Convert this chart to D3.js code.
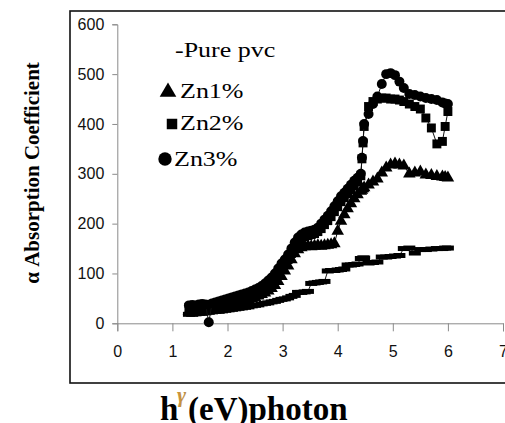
<!DOCTYPE html>
<html>
<head>
<meta charset="utf-8">
<script src="https://cdn.jsdelivr.net/npm/d3@7"></script>
<style>
body { margin: 0; background: #fff; }
svg { display: block; }
</style>
</head>
<body>
<svg id="chart" width="505" height="423"></svg>
<script>
// photon energy (eV), shared by all four samples
const energy = [1.30, 1.36, 1.42, 1.48, 1.54, 1.60, 1.66, 1.72, 1.78, 1.84,
	1.90, 1.96, 2.02, 2.08, 2.14, 2.20, 2.26, 2.32, 2.38, 2.44,
	2.50, 2.56, 2.62, 2.68, 2.74, 2.80, 2.86, 2.92, 2.98, 3.04,
	3.10, 3.16, 3.22, 3.28, 3.34, 3.40, 3.46, 3.52, 3.58, 3.64,
	3.70, 3.76, 3.82, 3.88, 3.94, 4.00, 4.06, 4.12, 4.18, 4.24,
	4.30, 4.36, 4.42, 4.44, 4.46, 4.48, 4.56, 4.64, 4.72, 4.80,
	4.88, 4.96, 5.04, 5.12, 5.20, 5.30, 5.40, 5.50, 5.60, 5.70,
	5.80, 5.90, 5.95, 6.00]

const purePvc = [18, 18, 19, 20, 20, 21, 22, 23, 24, 24,
	25, 26, 27, 28, 29, 30, 31, 32, 33, 35,
	36, 37, 39, 40, 41, 43, 44, 46, 48, 49,
	51, 54, 56, 62, 62, 63, 64, 80, 81, 82,
	83, 84, 105, 106, 106, 107, 108, 109, 117, 117,
	118, 119, 130, 130, 131, 131, 121, 122, 123, 133,
	133, 134, 135, 136, 150, 151, 141, 148, 148, 149,
	150, 150, 151, 151]

const zn1 = [24, 25, 26, 27, 28, 29, 30, 31, 32, 33,
	34, 35, 36, 38, 40, 42, 44, 46, 48, 50,
	52, 55, 58, 61, 65, 70, 76, 84, 94, 105,
	115, 128, 140, 148, 152, 154, 155, 154, 155, 156,
	155, 156, 157, 158, 160, 185, 205, 218, 230, 240,
	250, 258, 265, 267, 270, 272, 278, 284, 290, 302,
	312, 318, 320, 318, 316, 300, 302, 304, 298, 297,
	295, 294, 293, 292]

const zn2 = [32, 33, 34, 34, 35, 36, 37, 38, 39, 41,
	42, 44, 46, 48, 50, 52, 54, 56, 58, 60,
	63, 66, 70, 74, 79, 85, 92, 100, 110, 118,
	128, 140, 152, 162, 170, 174, 176, 178, 180, 184,
	190, 198, 206, 214, 224, 234, 244, 252, 260, 268,
	276, 284, 296, 330, 362, 395, 435, 445, 450, 452,
	452, 450, 450, 448, 445, 440, 435, 430, 412, 392,
	360, 365, 395, 425]

const zn3 = [36, 37, 36, 38, 39, 38, 2, 40, 42, 44,
	46, 48, 50, 52, 54, 56, 58, 60, 62, 65,
	68, 71, 75, 80, 86, 92, 100, 110, 120, 128,
	138, 150, 162, 172, 178, 182, 184, 186, 188, 192,
	200, 208, 216, 225, 235, 245, 255, 262, 270, 278,
	286, 292, 300, 332, 366, 400, 420, 440, 455, 480,
	500, 502, 498, 485, 472, 460, 458, 455, 452, 450,
	448, 443, 441, 440]

const xTicks = [0, 1, 2, 3, 4, 5, 6, 7]
const yTicks = [0, 100, 200, 300, 400, 500, 600]
const seriesNames = ['Pure pvc', 'Zn1%', 'Zn2%', 'Zn3%']

const svg = d3.select('#chart')
const axisColor = '#8a8a8a'
const tickFont = '"Liberation Sans", Arial, sans-serif'
const serif = '"Liberation Serif", "Times New Roman", serif'

const x = d3.scaleLinear().domain([0, 7]).range([117.3, 503])
const y = d3.scaleLinear().domain([0, 600]).range([323.3, 24.3])

// outer frame (right edge runs off the picture)
svg.append('rect')
	.attr('x', 70).attr('y', 11)
	.attr('width', 460).attr('height', 372)
	.style('fill', 'none')
	.style('stroke', '#111')
	.style('stroke-width', 1.6)

const gY = svg.append('g')
	.attr('transform', `translate(${x(0)}, 0)`)
	.call(d3.axisLeft(y).tickValues(yTicks).tickFormat(d3.format('d')).tickSize(5).tickPadding(8))
const gX = svg.append('g')
	.attr('transform', `translate(0, ${y(0)})`)
	.call(d3.axisBottom(x).tickValues(xTicks).tickFormat(d3.format('d')).tickSize(8).tickPadding(14))

;[gY, gX].forEach((g) => {
	g.select('.domain').attr('stroke', axisColor)
	g.selectAll('.tick line').attr('stroke', axisColor)
	g.selectAll('.tick text')
		.style('font-family', tickFont)
		.style('font-size', '16px')
		.style('fill', '#111')
})

// series: thin line under markers
const table = [purePvc, zn1, zn2, zn3].map((vals, k) =>
	vals.map((v, i) => ({ e: energy[i], v, k })))

const line = d3.line().x((d) => x(d.e)).y((d) => y(d.v))
const dash = 'M-6,-2.5H6V2.5H-6Z'
const markerPath = [
	() => dash,
	d3.symbol(d3.symbolTriangle, 68),
	d3.symbol(d3.symbolSquare, 80),
	d3.symbol(d3.symbolCircle, 78),
]

const gSeries = svg.append('g')
table.forEach((data, k) => {
	const gs = gSeries.append('g').classed(`series-${k}`, true)
	gs.append('path')
		.attr('d', line(data))
		.style('fill', 'none')
		.style('stroke', '#111')
		.style('stroke-width', 1)
	gs.selectAll('path.m')
		.data(data).enter()
		.append('path')
		.classed('m', true)
		.attr('transform', (d) => `translate(${x(d.e)}, ${y(d.v)})`)
		.attr('d', markerPath[k])
		.style('fill', '#000')
})

// legend
const legend = svg.append('g')
	.style('font-family', serif)
	.style('font-size', '20px')
	.style('fill', '#000')

const legendRows = [
	{ name: '-' + seriesNames[0], tx: 175, ty: 57 },
	{ name: seriesNames[1], tx: 180, ty: 98, sym: d3.symbolTriangle, size: 120, sx: 168, sy: 92 },
	{ name: seriesNames[2], tx: 180, ty: 130, sym: d3.symbolSquare, size: 110, sx: 172, sy: 124 },
	{ name: seriesNames[3], tx: 174, ty: 166, sym: d3.symbolCircle, size: 140, sx: 165, sy: 159 },
]

legendRows.forEach((r) => {
	legend.append('text')
		.attr('transform', `translate(${r.tx}, ${r.ty}) scale(1.3, 1)`)
		.text(r.name)
	if (r.sym) {
		legend.append('path')
			.attr('transform', `translate(${r.sx}, ${r.sy})`)
			.attr('d', d3.symbol(r.sym, r.size))
	}
})

// axis titles
svg.append('text')
	.attr('transform', 'translate(39, 173) rotate(-90)')
	.style('text-anchor', 'middle')
	.style('font-family', serif)
	.style('font-weight', 'bold')
	.style('font-size', '21px')
	.text('α Absorption Coefficient')

const grad = svg.append('defs').append('linearGradient')
	.attr('id', 'gammaFill')
	.attr('x1', '0%').attr('x2', '100%')
grad.append('stop').attr('offset', '0%').attr('stop-color', '#f0a020')
grad.append('stop').attr('offset', '50%').attr('stop-color', '#2f5fb0')
grad.append('stop').attr('offset', '100%').attr('stop-color', '#1d3f8a')

const xTitle = svg.append('text')
	.attr('x', 160).attr('y', 420)
	.style('font-family', serif)
	.style('font-weight', 'bold')
	.style('font-size', '33px')
xTitle.append('tspan').text('h')
xTitle.append('tspan')
	.attr('x', 177).attr('dy', -18)
	.style('font-size', '22px')
	.style('font-style', 'italic')
	.style('fill', 'url(#gammaFill)')
	.text('γ')
xTitle.append('tspan')
	.attr('x', 188).attr('dy', 18)
	.text('(eV)photon')
</script>
</body>
</html>
